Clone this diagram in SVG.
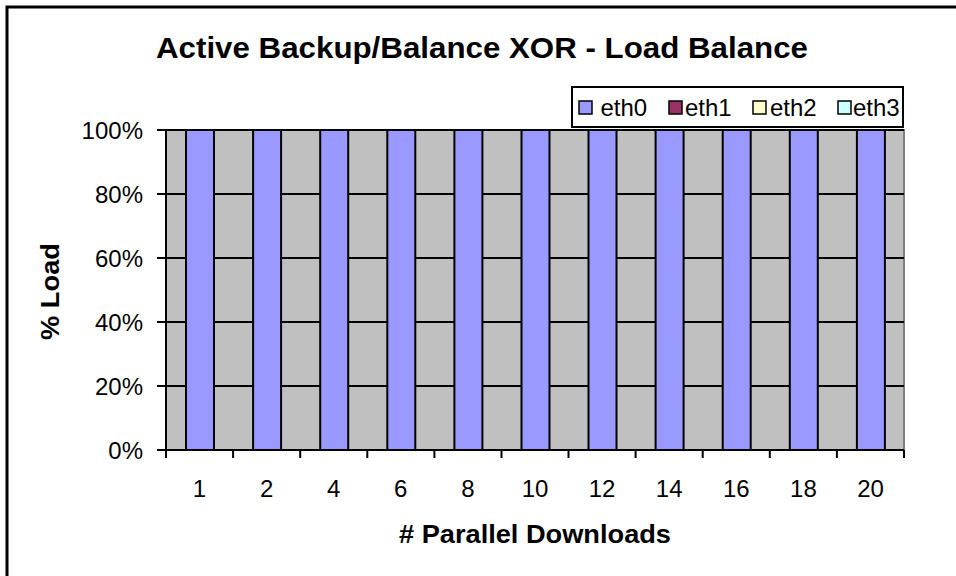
<svg xmlns="http://www.w3.org/2000/svg" width="956" height="576" viewBox="0 0 956 576">
<style>
text{font-family:"Liberation Sans",Arial,sans-serif;fill:#000}
.ax{font-size:24px}
.bar{fill:#9999ff;stroke:#000;stroke-width:2}
.grid{stroke:#000;stroke-width:2}
.lg{font-size:24px}
.sw{stroke:#000;stroke-width:1.5}
</style>
<rect width="956" height="576" fill="#fff"/>
<rect x="7" y="7" width="960" height="580" fill="none" stroke="#000" stroke-width="3"/>
<text x="156" y="58" font-size="30" font-weight="bold" textLength="652" lengthAdjust="spacingAndGlyphs">Active Backup/Balance XOR - Load Balance</text>
<g id="plot">
<rect x="166" y="130" width="738" height="320" fill="#c0c0c0" stroke="#808080" stroke-width="2"/>
<g class="grid">
<line x1="157" y1="130" x2="904" y2="130"/>
<line x1="157" y1="194" x2="904" y2="194"/>
<line x1="157" y1="258" x2="904" y2="258"/>
<line x1="157" y1="322" x2="904" y2="322"/>
<line x1="157" y1="386" x2="904" y2="386"/>
<line x1="157" y1="450" x2="904" y2="450"/>
<line x1="166" y1="130" x2="166" y2="458"/>
<line x1="233.1" y1="450" x2="233.1" y2="458"/>
<line x1="300.2" y1="450" x2="300.2" y2="458"/>
<line x1="367.3" y1="450" x2="367.3" y2="458"/>
<line x1="434.4" y1="450" x2="434.4" y2="458"/>
<line x1="501.5" y1="450" x2="501.5" y2="458"/>
<line x1="568.5" y1="450" x2="568.5" y2="458"/>
<line x1="635.6" y1="450" x2="635.6" y2="458"/>
<line x1="702.7" y1="450" x2="702.7" y2="458"/>
<line x1="769.8" y1="450" x2="769.8" y2="458"/>
<line x1="836.9" y1="450" x2="836.9" y2="458"/>
<line x1="904" y1="450" x2="904" y2="458"/>
</g>
</g>
<g id="bars">
<rect class="bar" x="186" y="130" width="28" height="320"/>
<rect class="bar" x="253.1" y="130" width="28" height="320"/>
<rect class="bar" x="320.2" y="130" width="28" height="320"/>
<rect class="bar" x="387.3" y="130" width="28" height="320"/>
<rect class="bar" x="454.4" y="130" width="28" height="320"/>
<rect class="bar" x="521.5" y="130" width="28" height="320"/>
<rect class="bar" x="588.5" y="130" width="28" height="320"/>
<rect class="bar" x="655.6" y="130" width="28" height="320"/>
<rect class="bar" x="722.7" y="130" width="28" height="320"/>
<rect class="bar" x="789.8" y="130" width="28" height="320"/>
<rect class="bar" x="856.9" y="130" width="28" height="320"/>
</g>
<g id="yaxis" class="ax" text-anchor="end">
<text x="143" y="138.5">100%</text>
<text x="143" y="202.5">80%</text>
<text x="143" y="266.5">60%</text>
<text x="143" y="330.5">40%</text>
<text x="143" y="394.5">20%</text>
<text x="143" y="458.5">0%</text>
</g>
<g id="xaxis" class="ax" text-anchor="middle">
<text x="199.5" y="497">1</text>
<text x="266.6" y="497">2</text>
<text x="333.7" y="497">4</text>
<text x="400.8" y="497">6</text>
<text x="467.9" y="497">8</text>
<text x="535" y="497">10</text>
<text x="602.1" y="497">12</text>
<text x="669.2" y="497">14</text>
<text x="736.3" y="497">16</text>
<text x="803.4" y="497">18</text>
<text x="870.5" y="497">20</text>
</g>
<text x="399" y="543" font-size="25" font-weight="bold" textLength="272" lengthAdjust="spacingAndGlyphs"># Parallel Downloads</text>
<text transform="translate(59,340) rotate(-90)" font-size="25" font-weight="bold" textLength="97" lengthAdjust="spacingAndGlyphs">% Load</text>
<g id="legend">
<rect x="572" y="87" width="331" height="40" fill="#fff" stroke="#000" stroke-width="2"/>
<rect class="sw" x="579" y="101" width="13" height="13" fill="#9999ff"/>
<text class="lg" x="600.5" y="116">eth0</text>
<rect class="sw" x="669" y="101" width="13" height="13" fill="#993366"/>
<text class="lg" x="685" y="116">eth1</text>
<rect class="sw" x="753" y="101" width="13" height="13" fill="#ffffcc"/>
<text class="lg" x="770" y="116">eth2</text>
<rect class="sw" x="838" y="101" width="13" height="13" fill="#ccffff"/>
<text class="lg" x="853" y="116">eth3</text>
</g>
</svg>
